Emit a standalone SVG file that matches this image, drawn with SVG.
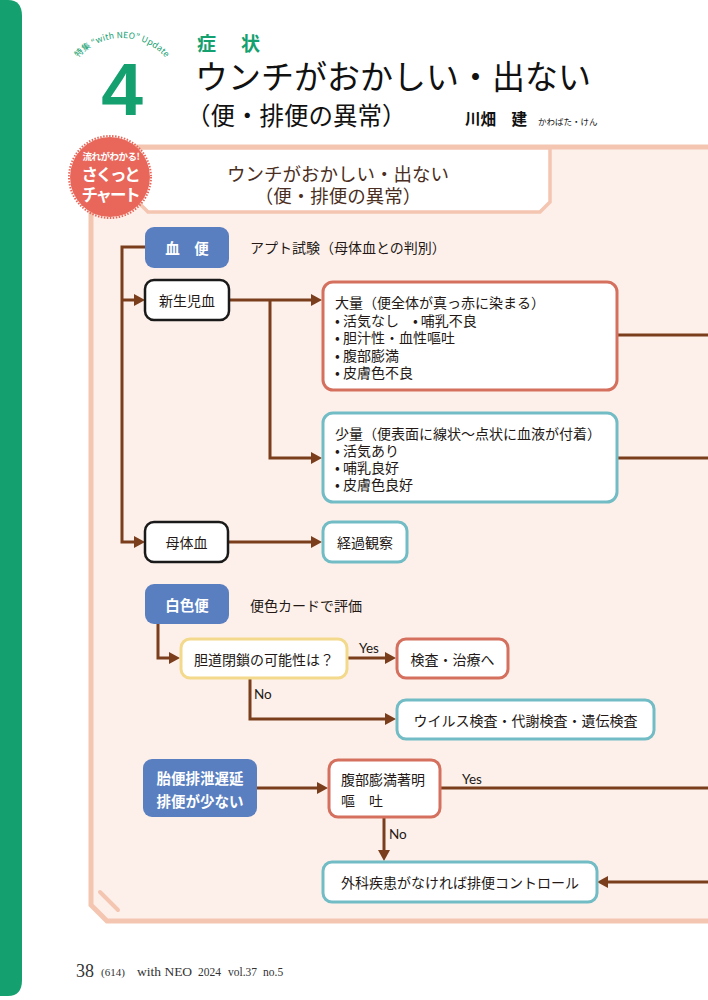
<svg xmlns="http://www.w3.org/2000/svg" width="708" height="1000" viewBox="0 0 708 1000">
<style>
.jp{font-family:"Noto Sans CJK JP","Noto Sans",sans-serif}
.t{font-family:"Noto Sans CJK JP",sans-serif;font-size:14px;fill:#231815}
.c{dominant-baseline:central}
.mid{text-anchor:middle}
.wb{fill:#fff;font-weight:bold;font-size:14.5px}
.blue{fill:#5a7fc1}
.box{fill:#fff;stroke-width:3}
.blk{stroke:#1a1a1a;stroke-width:2.5;fill:#fff}
.red{stroke:#d5705f}
.teal{stroke:#72bcc5}
.yel{stroke:#f3d98b}
.ln{fill:none;stroke:#7b3e1c;stroke-width:3}
.lbl{font-family:"Lato","Noto Sans",sans-serif;font-size:13.5px;fill:#231815}
.ser{font-family:"Liberation Serif",serif;fill:#333}
.g{fill:#14a06f}
</style>
<defs>
<marker id="ah" markerWidth="12" markerHeight="12" refX="7" refY="6" orient="auto" markerUnits="userSpaceOnUse">
<path d="M0,0 L11,6 L0,12 Z" fill="#7b3e1c"/>
</marker>
<path id="arc" d="M64 96 A58 58 0 0 1 180 96"/>
</defs>

<!-- page decoration -->
<g id="sidebar">
<path d="M0 0 H8 Q22 0 22 16 V980 Q22 996 8 996 H0 Z" class="g"/>
</g>

<g id="title">
<text class="jp g" font-size="8.5" letter-spacing="0.2"><textPath href="#arc" startOffset="50%" text-anchor="middle">特集 “with NEO” Update</textPath></text>
<text x="122" y="115" class="g" font-family="Liberation Sans,sans-serif" font-size="75" font-weight="bold" text-anchor="middle">4</text>
<text x="197" y="51" class="jp g" font-size="19" font-weight="bold">症</text>
<text x="241" y="51" class="jp g" font-size="19" font-weight="bold">状</text>
<text x="195" y="89" class="jp" font-size="33" fill="#111">ウンチがおかしい・出ない</text>
<text x="186" y="125" class="jp" font-size="24.5" fill="#111">（便・排便の異常）</text>
<text x="465" y="125" class="jp" font-size="15.5" font-weight="bold" fill="#111">川畑　建</text>
<text x="538" y="125" class="jp" font-size="8.5" fill="#111">かわばた・けん</text>
</g>

<!-- chart frame -->
<g id="frame">
<path d="M91 905 V147 H720 V921 H107 Z" fill="#fdf0ea" stroke="#f4c5b1" stroke-width="5"/>
<line x1="100" y1="892" x2="118" y2="910" stroke="#f4c5b1" stroke-width="4" stroke-linecap="round"/>
<path d="M120 148 H550 V202 L540 212 H148 L136 200 Z" fill="#fff" stroke="#f4c5b1" stroke-width="3.5"/>
<text x="338" y="173" class="jp c mid" font-size="18.5" fill="#4b2e22">ウンチがおかしい・出ない</text>
<text x="338" y="195" class="jp c mid" font-size="18.5" fill="#4b2e22">（便・排便の異常）</text>
</g>

<g id="badge">
<circle cx="110" cy="177" r="40" fill="#e8675a"/>
<circle cx="110" cy="177" r="41" fill="none" stroke="#e8675a" stroke-width="2" stroke-dasharray="1.5 1.5"/>
<text x="111" y="156" class="jp c mid" font-size="9.5" font-weight="bold" fill="#fff" letter-spacing="-0.5">流れがわかる!</text>
<text x="110" y="174" class="jp c mid" font-size="16.5" font-weight="bold" fill="#fff" letter-spacing="-2.2">さくっと</text>
<text x="110" y="194" class="jp c mid" font-size="16.5" font-weight="bold" fill="#fff" letter-spacing="-2.2">チャート</text>
</g>

<!-- connectors -->
<g id="connectors">
<path class="ln" d="M145 247 H122 V542 H141" marker-end="url(#ah)"/>
<path class="ln" d="M122 300 H141" marker-end="url(#ah)"/>
<path class="ln" d="M228 300 H318" marker-end="url(#ah)"/>
<path class="ln" d="M270 300 V458 H318" marker-end="url(#ah)"/>
<path class="ln" d="M617 335 H710"/>
<path class="ln" d="M617 458 H710"/>
<path class="ln" d="M228 542 H318" marker-end="url(#ah)"/>
<path class="ln" d="M158 624 V658 H176" marker-end="url(#ah)"/>
<path class="ln" d="M348 658 H392" marker-end="url(#ah)"/>
<path class="ln" d="M250 678 V719 H392" marker-end="url(#ah)"/>
<path class="ln" d="M257 788 H324" marker-end="url(#ah)"/>
<path class="ln" d="M440 788 H710"/>
<path class="ln" d="M384 817 V857" marker-end="url(#ah)"/>
<path class="ln" d="M710 882 H601" marker-end="url(#ah)"/>
<text x="359" y="648" class="lbl c">Yes</text>
<text x="254" y="694" class="lbl c">No</text>
<text x="462" y="779" class="lbl c">Yes</text>
<text x="389" y="834" class="lbl c">No</text>
</g>

<!-- nodes -->
<g id="n-ketsuben">
<rect x="145" y="227" width="84" height="41" rx="9" class="blue"/>
<text x="187" y="247.5" class="t c mid wb">血　便</text>
<text x="250" y="247" class="t c">アプト試験（母体血との判別）</text>
</g>
<g id="n-shinseijiketsu">
<rect x="145" y="280" width="84" height="40" rx="9" class="blk"/>
<text x="187" y="300" class="t c mid">新生児血</text>
</g>
<g id="n-tairyo">
<rect x="323" y="282" width="294" height="108" rx="10" class="box red"/>
<text x="335" y="302" class="t c">大量（便全体が真っ赤に染まる）</text>
<text x="335" y="320" class="t c">• 活気なし　• 哺乳不良</text>
<text x="335" y="337" class="t c">• 胆汁性・血性嘔吐</text>
<text x="335" y="355" class="t c">• 腹部膨満</text>
<text x="335" y="372" class="t c">• 皮膚色不良</text>
</g>
<g id="n-shoryo">
<rect x="323" y="413" width="294" height="89" rx="10" class="box teal"/>
<text x="335" y="433" class="t c">少量（便表面に線状～点状に血液が付着）</text>
<text x="335" y="450" class="t c">• 活気あり</text>
<text x="335" y="467" class="t c">• 哺乳良好</text>
<text x="335" y="484" class="t c">• 皮膚色良好</text>
</g>
<g id="n-botaiketsu">
<rect x="145" y="522" width="83" height="40" rx="9" class="blk"/>
<text x="186.5" y="542" class="t c mid">母体血</text>
</g>
<g id="n-keika">
<rect x="323" y="522" width="84" height="40" rx="9" class="box teal"/>
<text x="365" y="542" class="t c mid">経過観察</text>
</g>
<g id="n-hakushokuben">
<rect x="145" y="584" width="84" height="40" rx="9" class="blue"/>
<text x="187" y="604" class="t c mid wb">白色便</text>
<text x="250" y="605" class="t c">便色カードで評価</text>
</g>
<g id="n-tando">
<rect x="181" y="639" width="166" height="39" rx="9" class="box yel"/>
<text x="264" y="658.5" class="t c mid">胆道閉鎖の可能性は？</text>
</g>
<g id="n-kensa">
<rect x="397" y="639" width="111" height="39" rx="9" class="box red"/>
<text x="452.5" y="658.5" class="t c mid">検査・治療へ</text>
</g>
<g id="n-virus">
<rect x="397" y="700" width="257" height="39" rx="9" class="box teal"/>
<text x="525.5" y="719.5" class="t c mid">ウイルス検査・代謝検査・遺伝検査</text>
</g>
<g id="n-taiben">
<rect x="143" y="759" width="114" height="58" rx="9" class="blue"/>
<text x="200" y="777" class="t c mid wb">胎便排泄遅延</text>
<text x="200" y="800" class="t c mid wb">排便が少ない</text>
</g>
<g id="n-fukubu">
<rect x="329" y="760" width="111" height="57" rx="9" class="box red"/>
<text x="341" y="779" class="t c">腹部膨満著明</text>
<text x="341" y="800" class="t c">嘔　吐</text>
</g>
<g id="n-geka">
<rect x="323" y="862" width="274" height="40" rx="9" class="box teal"/>
<text x="460" y="882" class="t c mid">外科疾患がなければ排便コントロール</text>
</g>

<g id="footer">
<text x="76" y="977" class="ser" font-size="18">38</text>
<text x="101" y="976" class="ser" font-size="11">(614)</text>
<text x="137" y="976" class="ser" font-size="13.5">with NEO</text>
<text x="198" y="976" class="ser" font-size="11.5">2024</text>
<text x="228" y="976" class="ser" font-size="11.5">vol.37</text>
<text x="263" y="976" class="ser" font-size="11.5">no.5</text>
</g>
</svg>
